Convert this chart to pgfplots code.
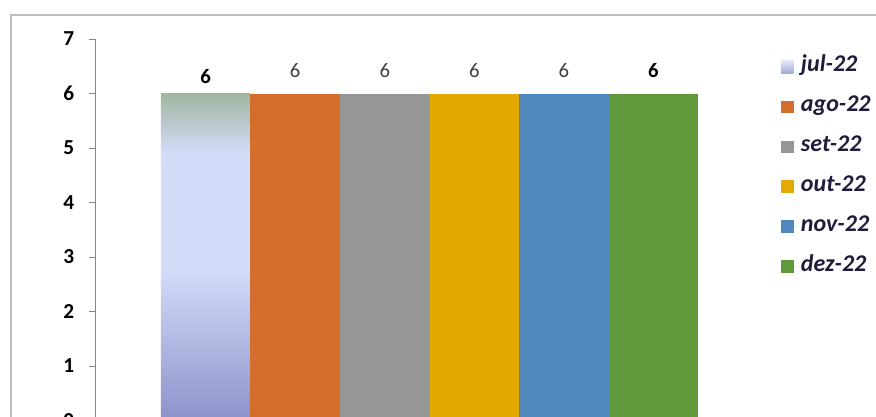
\documentclass[border=0pt]{standalone}
\usepackage{pgfplots}
\pgfplotsset{compat=1.18}
\usepackage{fontspec}
\setmainfont{Carlito}
\definecolor{cOrange}{RGB}{211,110,44}
\definecolor{cGray}{RGB}{150,150,150}
\definecolor{cYellow}{RGB}{226,170,0}
\definecolor{cBlue}{RGB}{78,136,189}
\definecolor{cGreen}{RGB}{96,153,60}
\definecolor{julTop}{RGB}{160,182,160}
\definecolor{julMid}{RGB}{210,220,248}
\definecolor{julBot}{RGB}{140,146,202}
\definecolor{legText}{RGB}{30,30,60}
\definecolor{axGray}{RGB}{134,134,134}
\definecolor{frameGray}{RGB}{190,190,190}
\definecolor{lblGray}{RGB}{64,64,64}
\pgfdeclareverticalshading{julshade}{100bp}{color(0bp)=(julBot); color(25bp)=(julBot); color(48bp)=(julMid); color(66bp)=(julMid); color(75bp)=(julTop); color(100bp)=(julTop)}
\begin{document}
\begin{tikzpicture}
\draw[frameGray, line width=1.6pt] (8.25pt,-340pt) -- (8.25pt,-11.25pt) -- (680pt,-11.25pt);
\begin{axis}[
  at={(71.25pt,-315.375pt)}, anchor=south west,
  scale only axis, width=501.75pt, height=286.125pt,
  xmin=-1.237, xmax=6.237, ymin=0, ymax=7,
  axis x line=none, axis y line*=left,
  ytick={0,1,2,3,4,5,6,7},
  tick align=outside, major tick length=4.5pt,
  y axis line style={axGray, line width=0.75pt},
  ytick style={axGray, line width=0.75pt},
  /pgf/number format/assume math mode=true,
  yticklabel style={font=\bfseries\fontsize{16}{18}\selectfont, text=black, xshift=-7.5pt},
  clip=false,
  legend image code/.code={\fill[#1] (0pt,-4.75pt) rectangle (9.5pt,4.75pt); \path (9.5pt,0pt) -- (14pt,0pt);},
  legend cell align=left,
  legend style={at={(1.025,0.953)}, anchor=north west, draw=none, fill=none,
    inner sep=0pt, row sep=14.9pt,
    font=\bfseries\itshape\fontsize{18}{20}\selectfont, text=legText,
    nodes={inner sep=1pt, text height=10pt, text depth=3pt}},
]
\addplot[ybar, bar width=1, bar shift=0pt, draw=none, shade, shading=julshade,
  legend image code/.code={\shade[top color=julMid!70!white, bottom color=julBot!70!julMid] (0pt,-4.75pt) rectangle (9.5pt,4.75pt); \path (9.5pt,0pt) -- (14pt,0pt);},
  nodes near coords, nodes near coords style={anchor=center, yshift=12.5pt, font=\bfseries\fontsize{15.5}{17}\selectfont, text=black}]
  coordinates {(0,6)};
\addlegendentry{jul-22}
\addplot[ybar, bar width=1, bar shift=0pt, draw=none, fill=cOrange,
  nodes near coords, nodes near coords style={anchor=center, yshift=17pt, font=\fontsize{15.5}{17}\selectfont, text=lblGray}]
  coordinates {(1,6)};
\addlegendentry{ago-22}
\addplot[ybar, bar width=1, bar shift=0pt, draw=none, fill=cGray,
  nodes near coords, nodes near coords style={anchor=center, yshift=17pt, font=\fontsize{15.5}{17}\selectfont, text=lblGray}]
  coordinates {(2,6)};
\addlegendentry{set-22}
\addplot[ybar, bar width=1, bar shift=0pt, draw=none, fill=cYellow,
  nodes near coords, nodes near coords style={anchor=center, yshift=17pt, font=\fontsize{15.5}{17}\selectfont, text=lblGray}]
  coordinates {(3,6)};
\addlegendentry{out-22}
\addplot[ybar, bar width=1, bar shift=0pt, draw=none, fill=cBlue,
  nodes near coords, nodes near coords style={anchor=center, yshift=17pt, font=\fontsize{15.5}{17}\selectfont, text=lblGray}]
  coordinates {(4,6)};
\addlegendentry{nov-22}
\addplot[ybar, bar width=1, bar shift=0pt, draw=none, fill=cGreen,
  nodes near coords, nodes near coords style={anchor=center, yshift=17pt, font=\bfseries\fontsize{15.5}{17}\selectfont, text=black}]
  coordinates {(5,6)};
\addlegendentry{dez-22}
\end{axis}
\pgfresetboundingbox
\useasboundingbox (0,0) rectangle (657pt,-312.75pt);
\end{tikzpicture}
\end{document}
